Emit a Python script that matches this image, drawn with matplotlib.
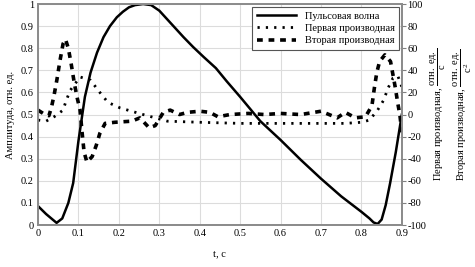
import numpy as np
import matplotlib
matplotlib.use('Agg')
import matplotlib.pyplot as plt

plt.rcParams['font.family'] = ['Liberation Serif', 'DejaVu Serif']
plt.rcParams['mathtext.fontset'] = 'custom'
plt.rcParams['mathtext.rm'] = 'Liberation Serif'
plt.rcParams['mathtext.it'] = 'Liberation Serif:italic'
plt.rcParams['font.size'] = 7

# pulse wave, amplitude in relative units
t_pulse = [0, 0.02, 0.046, 0.06, 0.075, 0.087, 0.1, 0.116, 0.13, 0.146, 0.162, 0.178,
           0.195, 0.21, 0.225, 0.24, 0.26, 0.28, 0.30, 0.33, 0.36, 0.384, 0.41, 0.44,
           0.467, 0.5, 0.55, 0.6, 0.65, 0.7, 0.75, 0.8, 0.82, 0.83, 0.84, 0.85,
           0.86, 0.871, 0.885, 0.9]
pulse = [0.086, 0.05, 0.01, 0.03, 0.10, 0.19, 0.38, 0.58, 0.69, 0.78, 0.85, 0.90,
         0.94, 0.965, 0.985, 0.995, 1.0, 0.995, 0.97, 0.91, 0.85, 0.805, 0.76, 0.71,
         0.65, 0.58, 0.47, 0.385, 0.295, 0.21, 0.13, 0.06, 0.03, 0.012, 0.005, 0.025,
         0.09, 0.19, 0.33, 0.5]

# first derivative, rel. units / s
t_d1 = [0, 0.02, 0.04, 0.062, 0.07, 0.08, 0.09, 0.104, 0.13, 0.153, 0.173, 0.203,
        0.26, 0.32, 0.4, 0.5, 0.6, 0.7, 0.76, 0.8, 0.82, 0.84, 0.855, 0.866,
        0.878, 0.89, 0.9]
d1 = [-5, -6, -2, 4, 13, 22, 27, 34, 31, 20, 11, 6,
      0, -6, -7, -8, -8, -8, -8, -7, -5, 4, 13, 24,
      33, 35, 25]

# second derivative, rel. units / s^2
t_d2 = [0, 0.017, 0.027, 0.033, 0.04, 0.047, 0.054, 0.062, 0.068, 0.075, 0.082,
        0.09, 0.097, 0.104, 0.109, 0.114, 0.121, 0.134, 0.144, 0.153, 0.166,
        0.19, 0.232, 0.252, 0.275, 0.29, 0.31, 0.327, 0.35, 0.37, 0.40, 0.425,
        0.445, 0.475, 0.52, 0.56, 0.6, 0.65, 0.7, 0.74, 0.76, 0.785, 0.81,
        0.826, 0.832, 0.838, 0.845, 0.858, 0.872, 0.878, 0.884, 0.89, 0.895, 0.9]
d2 = [4, 0, -1, 6, 18, 32, 48, 64, 68, 60, 46,
      28, 15, 4, -16, -34, -43, -38, -28, -17, -8,
      -7, -6, -3, -12, -10, 2, 4, 0, 2, 3, 2,
      -2, 0, 1, 0, 1, 0, 3, -3, 2, -3, -2,
      8, 24, 38, 48, 54, 48, 36, 24, 10, 0, -16]

x_ticks = np.round(np.arange(0, 0.91, 0.1), 1)
y_ticks = np.round(np.arange(0, 1.01, 0.1), 1)
y2_ticks = np.arange(-100, 101, 20)

fig = plt.figure(figsize=(4.75, 2.67), dpi=100)
ax = fig.add_axes([0.08, 0.157, 0.766, 0.828])
ax2 = ax.twinx()

l1, = ax.plot(t_pulse, pulse, color='black', lw=1.8, label='Пульсовая волна')
l2, = ax2.plot(t_d1, d1, color='black', lw=2.0, dashes=(0.8, 2.2),
               label='Первая производная')
l3, = ax2.plot(t_d2, d2, color='black', lw=2.6, dashes=(1.6, 1.6),
               label='Вторая производная')

ax.set_xlim(0, 0.9)
ax.set_ylim(0, 1)
ax2.set_ylim(-100, 100)
ax.set_xticks(x_ticks)
ax.set_xticklabels([f'{v:g}' for v in x_ticks])
ax.set_yticks(y_ticks)
ax.set_yticklabels([f'{v:g}' for v in y_ticks])
ax2.set_yticks(y2_ticks)
ax2.set_yticklabels([f'{v}' for v in y2_ticks])

ax.grid(True, color='#dcdcdc', lw=0.8)
ax.set_axisbelow(True)
ax.tick_params(length=0, pad=3, labelsize=7.5)
ax2.tick_params(axis='y', direction='out', length=3, pad=1, color='#808080',
                labelsize=7.5)

for a in (ax, ax2):
    for s in a.spines.values():
        s.set_color('#8c8c8c')
        s.set_linewidth(1.3)

ax.set_xlabel('t, с', labelpad=8, fontsize=7.5)
ax.set_ylabel('Амплитуда, отн. ед.', labelpad=4, fontsize=7.5)

fig.text(0.922, 0.57, r'Первая производная, $\dfrac{\mathrm{отн.\ ед.}}{\mathrm{с}}$',
         rotation=90, ha='center', va='center', fontsize=7.5)
fig.text(0.975, 0.57, r'Вторая производная, $\dfrac{\mathrm{отн.\ ед.}}{\mathrm{с}^2}$',
         rotation=90, ha='center', va='center', fontsize=7.5)

leg = ax.legend(handles=[l1, l2, l3], loc='upper right', fancybox=False,
                framealpha=1, edgecolor='#555555', handlelength=3.8,
                borderaxespad=0.3, labelspacing=0.3, borderpad=0.4,
                fontsize=7.5)
leg.get_frame().set_linewidth(0.8)
leg.set_zorder(5)

fig.savefig('out.png', dpi=100)
